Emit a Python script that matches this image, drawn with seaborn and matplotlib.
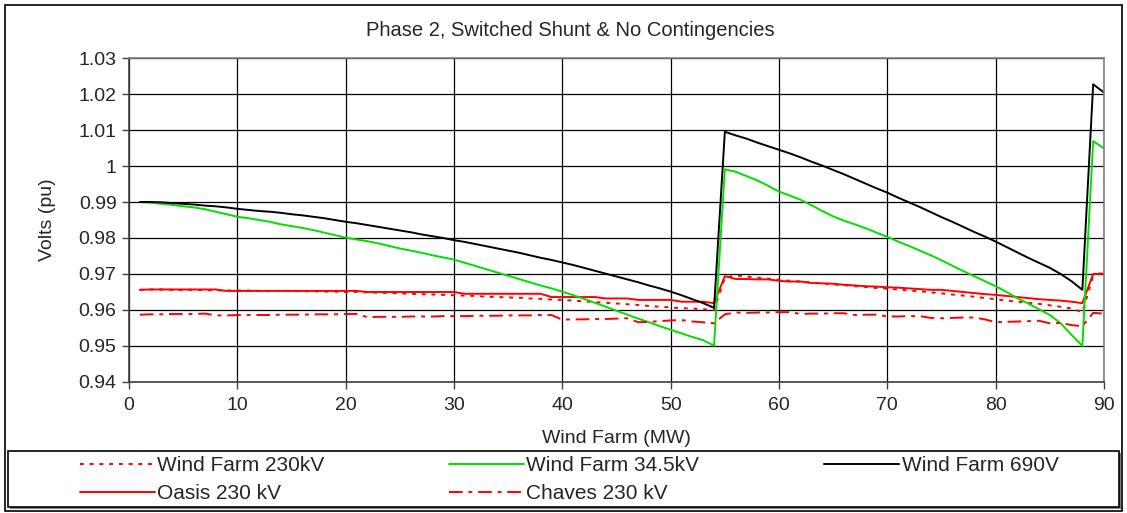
import matplotlib
matplotlib.use("Agg")
import matplotlib.pyplot as plt
import matplotlib.ticker as mticker
from matplotlib.patches import Rectangle
from matplotlib.lines import Line2D
import seaborn as sns
import pandas as pd

# Wind farm output (MW)
mw = list(range(1, 91))

wind_farm_690v = [
    0.9900, 0.9900, 0.9899, 0.9897, 0.9895, 0.9893, 0.9890, 0.9888, 0.9885, 0.9881,
    0.9878, 0.9875, 0.9873, 0.9870, 0.9866, 0.9863, 0.9859, 0.9855, 0.9850, 0.9845,
    0.9841, 0.9836, 0.9831, 0.9826, 0.9821, 0.9816, 0.9810, 0.9805, 0.9800, 0.9794,
    0.9789, 0.9783, 0.9777, 0.9771, 0.9765, 0.9759, 0.9752, 0.9745, 0.9739, 0.9732,
    0.9725, 0.9717, 0.9709, 0.9701, 0.9693, 0.9685, 0.9677, 0.9668, 0.9660, 0.9651,
    0.9641, 0.9630, 0.9619, 0.9606, 1.0095, 1.0085, 1.0076, 1.0065, 1.0055, 1.0045,
    1.0035, 1.0024, 1.0012, 1.0001, 0.9989, 0.9977, 0.9964, 0.9951, 0.9938, 0.9926,
    0.9912, 0.9899, 0.9886, 0.9872, 0.9858, 0.9845, 0.9831, 0.9817, 0.9804, 0.9790,
    0.9775, 0.9760, 0.9745, 0.9731, 0.9717, 0.9700, 0.9680, 0.9656, 1.0227, 1.0204,
]

wind_farm_34_5kv = [
    0.9900, 0.9898, 0.9895, 0.9892, 0.9888, 0.9885, 0.9880, 0.9873, 0.9866, 0.9859,
    0.9855, 0.9850, 0.9845, 0.9838, 0.9833, 0.9828, 0.9822, 0.9815, 0.9808, 0.9801,
    0.9796, 0.9791, 0.9785, 0.9778, 0.9771, 0.9765, 0.9759, 0.9752, 0.9746, 0.9740,
    0.9731, 0.9722, 0.9713, 0.9704, 0.9695, 0.9686, 0.9677, 0.9668, 0.9660, 0.9651,
    0.9641, 0.9631, 0.9620, 0.9609, 0.9598, 0.9587, 0.9576, 0.9566, 0.9555, 0.9545,
    0.9535, 0.9525, 0.9516, 0.9501, 0.9991, 0.9984, 0.9972, 0.9960, 0.9945, 0.9929,
    0.9918, 0.9906, 0.9891, 0.9875, 0.9860, 0.9848, 0.9838, 0.9827, 0.9815, 0.9803,
    0.9790, 0.9778, 0.9765, 0.9752, 0.9738, 0.9723, 0.9708, 0.9694, 0.9680, 0.9666,
    0.9650, 0.9633, 0.9618, 0.9602, 0.9586, 0.9563, 0.9531, 0.9500, 1.0069, 1.0049,
]

wind_farm_230kv = [
    0.9656, 0.9657, 0.9657, 0.9656, 0.9656, 0.9656, 0.9655, 0.9655, 0.9654, 0.9654,
    0.9654, 0.9653, 0.9653, 0.9653, 0.9653, 0.9652, 0.9652, 0.9651, 0.9651, 0.9650,
    0.9650, 0.9649, 0.9648, 0.9647, 0.9646, 0.9645, 0.9644, 0.9643, 0.9642, 0.9641,
    0.9640, 0.9639, 0.9637, 0.9636, 0.9635, 0.9634, 0.9632, 0.9631, 0.9629, 0.9628,
    0.9626, 0.9624, 0.9622, 0.9620, 0.9618, 0.9616, 0.9614, 0.9611, 0.9609, 0.9607,
    0.9605, 0.9604, 0.9602, 0.9600, 0.9690, 0.9696, 0.9693, 0.9690, 0.9687, 0.9684,
    0.9681, 0.9679, 0.9676, 0.9674, 0.9671, 0.9669, 0.9666, 0.9664, 0.9661, 0.9659,
    0.9657, 0.9654, 0.9652, 0.9649, 0.9646, 0.9643, 0.9640, 0.9637, 0.9633, 0.9630,
    0.9626, 0.9623, 0.9620, 0.9617, 0.9613, 0.9609, 0.9604, 0.9594, 0.9695, 0.9705,
]

oasis_230kv = [
    0.9656, 0.9657, 0.9657, 0.9657, 0.9657, 0.9657, 0.9657, 0.9657, 0.9653, 0.9653,
    0.9653, 0.9653, 0.9653, 0.9653, 0.9653, 0.9653, 0.9653, 0.9653, 0.9653, 0.9653,
    0.9653, 0.9650, 0.9650, 0.9650, 0.9650, 0.9650, 0.9650, 0.9650, 0.9650, 0.9650,
    0.9645, 0.9645, 0.9645, 0.9645, 0.9645, 0.9645, 0.9645, 0.9645, 0.9636, 0.9636,
    0.9636, 0.9636, 0.9636, 0.9632, 0.9632, 0.9632, 0.9628, 0.9628, 0.9628, 0.9628,
    0.9623, 0.9623, 0.9623, 0.9619, 0.9694, 0.9686, 0.9686, 0.9685, 0.9685, 0.9681,
    0.9679, 0.9679, 0.9675, 0.9674, 0.9673, 0.9670, 0.9668, 0.9666, 0.9665, 0.9663,
    0.9662, 0.9660, 0.9658, 0.9656, 0.9656, 0.9653, 0.9650, 0.9647, 0.9644, 0.9642,
    0.9639, 0.9636, 0.9633, 0.9630, 0.9628, 0.9626, 0.9623, 0.9619, 0.9700, 0.9701,
]

chaves_230kv = [
    0.9587, 0.9588, 0.9588, 0.9589, 0.9589, 0.9589, 0.9590, 0.9585, 0.9585, 0.9586,
    0.9586, 0.9586, 0.9586, 0.9587, 0.9587, 0.9587, 0.9588, 0.9588, 0.9588, 0.9589,
    0.9589, 0.9580, 0.9581, 0.9581, 0.9581, 0.9582, 0.9582, 0.9582, 0.9583, 0.9583,
    0.9583, 0.9584, 0.9584, 0.9584, 0.9585, 0.9585, 0.9585, 0.9586, 0.9586, 0.9573,
    0.9574, 0.9574, 0.9575, 0.9575, 0.9576, 0.9577, 0.9566, 0.9567, 0.9569, 0.9571,
    0.9572, 0.9568, 0.9566, 0.9563, 0.9588, 0.9593, 0.9592, 0.9593, 0.9593, 0.9594,
    0.9594, 0.9589, 0.9590, 0.9590, 0.9591, 0.9591, 0.9586, 0.9587, 0.9587, 0.9582,
    0.9582, 0.9583, 0.9583, 0.9578, 0.9577, 0.9578, 0.9579, 0.9579, 0.9574, 0.9566,
    0.9567, 0.9568, 0.9569, 0.9570, 0.9563, 0.9564, 0.9558, 0.9555, 0.9592, 0.9590,
]

y_ticks = [0.94, 0.95, 0.96, 0.97, 0.98, 0.99, 1.00, 1.01, 1.02, 1.03]
x_ticks = [0, 10, 20, 30, 40, 50, 60, 70, 80, 90]

sns.set_theme(style="white")
plt.rcParams["font.family"] = ["Liberation Sans", "DejaVu Sans"]

fig = plt.figure(figsize=(11.27, 5.13), dpi=100)
ax = fig.add_axes([0.1145, 0.2554, 0.8651, 0.6315])

series = [
    ("Wind Farm 230kV", wind_farm_230kv, "#ff0000", (0, (2.0, 3.0))),
    ("Oasis 230 kV", oasis_230kv, "#ff0000", "-"),
    ("Wind Farm 34.5kV", wind_farm_34_5kv, "#00e000", "-"),
    ("Chaves 230 kV", chaves_230kv, "#ff0000", (0, (7.0, 3.0, 2.0, 3.0))),
    ("Wind Farm 690V", wind_farm_690v, "#000000", "-"),
]

frame = pd.DataFrame({"MW": mw})
for name, values, color, ls in series:
    frame[name] = values

handles = []
for name, values, color, ls in series:
    sns.lineplot(data=frame, x="MW", y=name, ax=ax, color=color,
                 linestyle=ls, linewidth=1.4)
    handles.append(Line2D([], [], color=color, linestyle=ls, linewidth=1.4,
                          label=name))

ax.set_xlim(0, 90)
ax.set_ylim(0.94, 1.03)
ax.set_xticks(x_ticks)
ax.set_yticks(y_ticks)
ax.yaxis.set_major_formatter(mticker.FuncFormatter(lambda v, p: f"{v:g}"))
ax.grid(True, color="black", linewidth=0.9)
ax.tick_params(axis="both", direction="out", length=5, width=1,
               color="#404040", labelsize=14, left=True, bottom=True)
ax.tick_params(axis="x", pad=6)
ax.tick_params(axis="y", pad=4)
for side in ["top", "right"]:
    ax.spines[side].set_color("#808080")
    ax.spines[side].set_linewidth(1.2)
for side in ["left", "bottom"]:
    ax.spines[side].set_color("#404040")
    ax.spines[side].set_linewidth(1.2)

ax.set_xlabel("Wind Farm (MW)", fontsize=14, va="center")
ax.set_ylabel("Volts (pu)", fontsize=14, va="center")
ax.xaxis.set_label_coords(0.5, -0.173)
ax.yaxis.set_label_coords(-0.084, 0.5)
fig.text(0.506, 0.9396, "Phase 2, Switched Shunt & No Contingencies",
         ha="center", va="center", fontsize=14.5)

# Chart border and legend box
fig.add_artist(Rectangle((5 / 1127, 2 / 513), 1117 / 1127, 506 / 513,
                         transform=fig.transFigure, fill=False,
                         edgecolor="black", linewidth=1.2))
fig.add_artist(Rectangle((10 / 1127, 4 / 513), 1111 / 1127, 56 / 513,
                         transform=fig.transFigure, facecolor="#808080",
                         edgecolor="none", zorder=1))
fig.add_artist(Rectangle((8 / 1127, 6 / 513), 1111 / 1127, 56 / 513,
                         transform=fig.transFigure, facecolor="white",
                         edgecolor="black", linewidth=1.2, zorder=2))

fig.legend(handles=handles, loc="center left",
           bbox_to_anchor=(80 / 1127, 0.0653), borderaxespad=0, borderpad=0,
           ncol=3, frameon=False, fontsize=15, handlelength=3.6,
           handletextpad=0.1, columnspacing=6.0, labelspacing=0.42)

fig.savefig("out.png", dpi=100)
